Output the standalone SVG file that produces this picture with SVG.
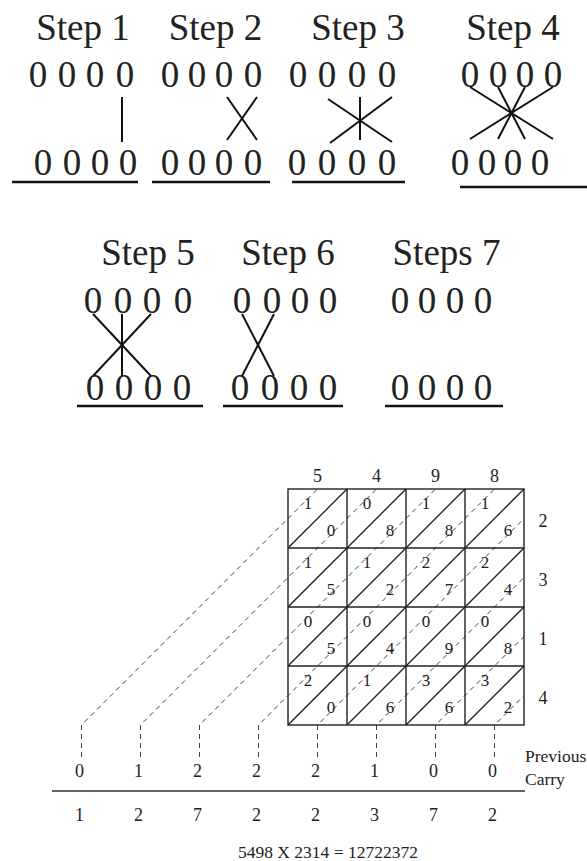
<svg xmlns="http://www.w3.org/2000/svg" width="587" height="861" viewBox="0 0 587 861">
<style>
  text { font-family: Times New Roman, Liberation Serif, Tinos, DejaVu Serif, serif; fill: #222; }
  .step { font-size: 37px; text-anchor: middle; }
  .zero { font-size: 37px; text-anchor: middle; }
  .ul { stroke: #111; stroke-width: 2.5; }
  .ln { stroke: #111; stroke-width: 2; fill: none; }
  .grid { stroke: #222; stroke-width: 1.4; fill: none; }
  .dash { stroke: #444; stroke-width: 1; fill: none; stroke-dasharray: 5 4; }
  .cell { font-size: 17px; text-anchor: middle; }
  .lab { font-size: 18px; text-anchor: middle; }
  .note { font-size: 17.5px; }
</style>
<rect width="587" height="861" fill="#fff"/>

<g id="step1">
  <text class="step" x="83" y="40">Step 1</text>
  <text class="zero" x="38 67 95 125" y="87">0000</text>
  <text class="zero" x="43 72 100 128" y="175">0000</text>
  <line class="ln" x1="122" y1="97" x2="122" y2="142"/>
  <line class="ul" x1="12" y1="182" x2="138" y2="182"/>
</g>
<g id="step2">
  <text class="step" x="215.5" y="40">Step 2</text>
  <text class="zero" x="170 197 224 253" y="87">0000</text>
  <text class="zero" x="170 197 224 253" y="175">0000</text>
  <line class="ln" x1="227" y1="97" x2="257" y2="140"/>
  <line class="ln" x1="257" y1="97" x2="227" y2="140"/>
  <line class="ul" x1="152" y1="182" x2="270" y2="182"/>
</g>
<g id="step3">
  <text class="step" x="358" y="40">Step 3</text>
  <text class="zero" x="298 327 357 387" y="87">0000</text>
  <text class="zero" x="297 327 357 387" y="175">0000</text>
  <line class="ln" x1="360" y1="97" x2="360" y2="140"/>
  <line class="ln" x1="328" y1="99" x2="392" y2="142"/>
  <line class="ln" x1="392" y1="97" x2="330" y2="143"/>
  <line class="ul" x1="292" y1="182" x2="405" y2="182"/>
</g>
<g id="step4">
  <text class="step" x="513" y="40">Step 4</text>
  <text class="zero" x="470 498 525 553" y="87">0000</text>
  <text class="zero" x="460 487 513 540" y="175">0000</text>
  <line class="ln" x1="470" y1="87" x2="553" y2="139"/>
  <line class="ln" x1="498" y1="87" x2="525" y2="139"/>
  <line class="ln" x1="525" y1="87" x2="498" y2="139"/>
  <line class="ln" x1="553" y1="87" x2="470" y2="139"/>
  <line class="ul" x1="460" y1="187" x2="587" y2="187"/>
</g>
<g id="step5">
  <text class="step" x="148" y="265">Step 5</text>
  <text class="zero" x="93 123 152 183" y="313">0000</text>
  <text class="zero" x="95 124 153 182" y="400">0000</text>
  <line class="ln" x1="93" y1="314" x2="151" y2="376"/>
  <line class="ln" x1="122" y1="314" x2="122" y2="376"/>
  <line class="ln" x1="151" y1="314" x2="93" y2="376"/>
  <line class="ul" x1="77" y1="406" x2="203" y2="406"/>
</g>
<g id="step6">
  <text class="step" x="288" y="265">Step 6</text>
  <text class="zero" x="242 272 300 328" y="313">0000</text>
  <text class="zero" x="240 270 299 328" y="400">0000</text>
  <line class="ln" x1="242" y1="314" x2="274" y2="376"/>
  <line class="ln" x1="274" y1="314" x2="242" y2="376"/>
  <line class="ul" x1="223" y1="406" x2="343" y2="406"/>
</g>
<g id="step7">
  <text class="step" x="446.5" y="265">Steps 7</text>
  <text class="zero" x="400 427 455 483" y="313">0000</text>
  <text class="zero" x="400 427 455 483" y="400">0000</text>
  <line class="ul" x1="385" y1="406" x2="503" y2="406"/>
</g>

<g id="connectors">
  <polyline class="dash" points="81.5,757 81.5,725 317.5,489"/>
  <polyline class="dash" points="140.5,757 140.5,725 376.5,489"/>
  <polyline class="dash" points="199.5,757 199.5,725 435.5,489"/>
  <polyline class="dash" points="258.5,757 258.5,725 494.5,489"/>
  <polyline class="dash" points="317.5,757 317.5,725 524,518.5"/>
  <polyline class="dash" points="376.5,757 376.5,725 524,577.5"/>
  <polyline class="dash" points="435.5,757 435.5,725 524,636.5"/>
  <polyline class="dash" points="494.5,757 494.5,725 524,695.5"/>
</g>

<g id="lattice">
  <rect class="grid" x="288" y="489" width="236" height="236"/>
  <path class="grid" d="M347,489V725M406,489V725M465,489V725M288,548H524M288,607H524M288,666H524"/>
  <path class="grid" d="M288,548L347,489M288,607L406,489M288,666L465,489M288,725L524,489M347,725L524,548M406,725L524,607M465,725L524,666"/>
  <g id="headers">
    <text class="lab" x="317.5 376.5 435.5 494.5" y="482">5498</text>
    <text class="lab" x="543" y="526.5">2</text>
    <text class="lab" x="543" y="585.5">3</text>
    <text class="lab" x="543" y="644.5">1</text>
    <text class="lab" x="543" y="703.5">4</text>
  </g>
  <g id="cells">
    <text class="cell" x="308 367 426 485" y="509">1011</text>
    <text class="cell" x="331 390 449 508" y="536">0886</text>
    <text class="cell" x="308 367 426 485" y="568">1122</text>
    <text class="cell" x="331 390 449 508" y="595">5274</text>
    <text class="cell" x="308 367 426 485" y="627">0000</text>
    <text class="cell" x="331 390 449 508" y="654">5498</text>
    <text class="cell" x="308 367 426 485" y="686">2133</text>
    <text class="cell" x="331 390 449 508" y="713">0662</text>
  </g>
</g>

<g id="totals">
  <text class="lab" x="79.5 138.5 197.5 256.5 315.5 374.5 433.5 492.5" y="777">01222100</text>
  <line x1="52" y1="791" x2="525" y2="791" stroke="#333" stroke-width="1.4"/>
  <text class="lab" x="79.5 138.5 197.5 256.5 315.5 374.5 433.5 492.5" y="821">12722372</text>
  <text class="note" x="525" y="762">Previous</text>
  <text class="note" x="525" y="785">Carry</text>
  <text class="note" x="328" y="858" text-anchor="middle">5498 X 2314 = 12722372</text>
</g>
</svg>
